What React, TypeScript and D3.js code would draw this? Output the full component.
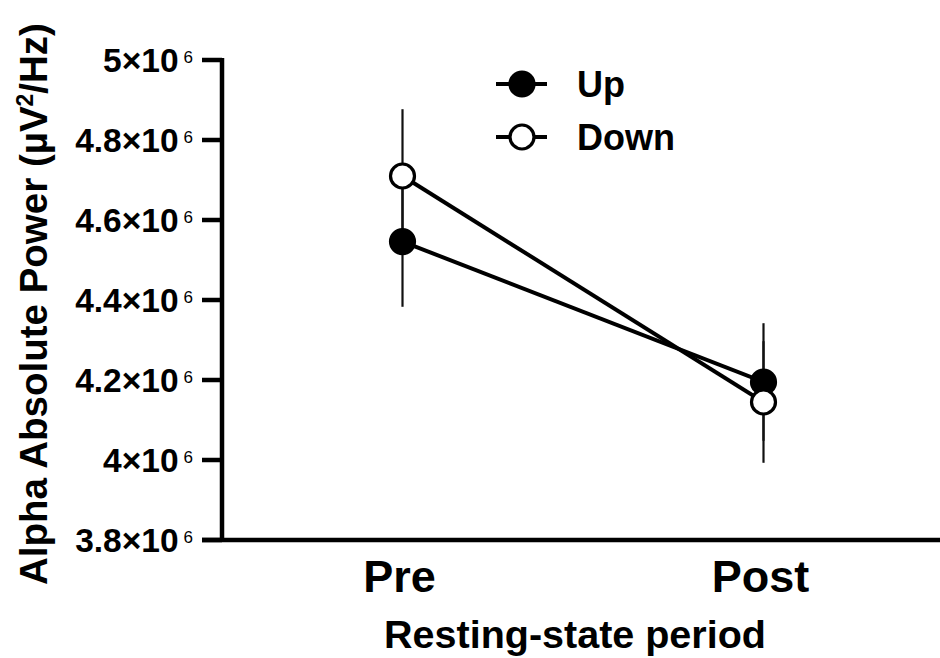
import React, { useEffect, useRef } from 'react';
import * as d3 from 'd3';

const periods = ['Pre', 'Post'];
const seriesNames = ['Up', 'Down'];
const upMean = [4.546e6, 4.195e6];
const upSem = [0.163e6, 0.147e6];
const downMean = [4.71e6, 4.145e6];
const downSem = [0.167e6, 0.152e6];
const yTicks = [3.8e6, 4e6, 4.2e6, 4.4e6, 4.6e6, 4.8e6, 5e6];

const W = 940;
const H = 658;
const FONT = '"Liberation Sans", Arial, Helvetica, sans-serif';

function draw(el: SVGSVGElement) {
  const svg = d3.select(el);
  svg.selectAll('*').remove();

  const x = d3.scalePoint<string>().domain(periods).range([222, 944]).padding(0.5);
  const y = d3.scaleLinear().domain([3.8e6, 5e6]).range([540, 60]);

  const series = [
    { name: seriesNames[0], mean: upMean, sem: upSem, fill: '#000' },
    { name: seriesNames[1], mean: downMean, sem: downSem, fill: '#fff' },
  ];

  // axes
  const g = svg.append('g').attr('font-family', FONT).attr('font-weight', 700);

  g.append('line')
    .attr('x1', 222).attr('x2', 222)
    .attr('y1', y(5e6) - 2).attr('y2', y(3.8e6) + 2)
    .attr('stroke', '#000').attr('stroke-width', 4.5);
  g.append('line')
    .attr('x1', 202).attr('x2', W)
    .attr('y1', y(3.8e6)).attr('y2', y(3.8e6))
    .attr('stroke', '#000').attr('stroke-width', 4.5);

  const tick = g.selectAll('g.tick')
    .data(yTicks)
    .join('g')
      .attr('class', 'tick')
      .attr('transform', d => `translate(0,${y(d)})`);
  tick.append('line')
    .attr('x1', 202).attr('x2', 222)
    .attr('stroke', '#000').attr('stroke-width', 4.5);
  const lbl = tick.append('text')
    .attr('x', 193)
    .attr('y', 12)
    .attr('text-anchor', 'end')
    .attr('font-size', 33.5);
  lbl.append('tspan').text(d => `${d3.format('~g')(d / 1e6)}×10`);
  lbl.append('tspan')
    .attr('dx', 5)
    .attr('dy', -9)
    .attr('font-size', 17)
    .attr('font-weight', 400)
    .text('6');

  g.selectAll('text.xl')
    .data(periods)
    .join('text')
      .attr('class', 'xl')
      .attr('x', d => x(d)! - 3)
      .attr('y', 592)
      .attr('text-anchor', 'middle')
      .attr('font-size', 45)
      .text(d => d);

  g.append('text')
    .attr('x', 575).attr('y', 648)
    .attr('text-anchor', 'middle')
    .attr('font-size', 39.5)
    .text('Resting-state period');

  const yt = g.append('text')
    .attr('transform', 'translate(47,304) rotate(-90)')
    .attr('text-anchor', 'middle')
    .attr('font-size', 38.5);
  yt.append('tspan').text('Alpha Absolute Power (µV');
  yt.append('tspan').attr('dy', -14).attr('font-size', 23).text('2');
  yt.append('tspan').attr('dy', 14).text('/Hz)');

  // error bars
  series.forEach(s => {
    svg.append('g').selectAll('line')
      .data(periods)
      .join('line')
        .attr('x1', d => x(d)!).attr('x2', d => x(d)!)
        .attr('y1', (d, i) => y(s.mean[i] - s.sem[i]))
        .attr('y2', (d, i) => y(s.mean[i] + s.sem[i]))
        .attr('stroke', '#111').attr('stroke-width', 2.2);
  });

  const line = d3.line<number>()
    .x((d, i) => x(periods[i])!)
    .y(d => y(d));

  series.forEach(s => {
    svg.append('path')
      .attr('d', line(s.mean))
      .attr('fill', 'none')
      .attr('stroke', '#000')
      .attr('stroke-width', 4);
  });

  series.forEach(s => {
    svg.append('g').selectAll('circle')
      .data(s.mean)
      .join('circle')
        .attr('cx', (d, i) => x(periods[i])!)
        .attr('cy', d => y(d))
        .attr('r', 12)
        .attr('fill', s.fill)
        .attr('stroke', '#000')
        .attr('stroke-width', 3.2);
  });

  // legend
  const leg = svg.append('g')
    .attr('font-family', FONT).attr('font-weight', 700)
    .selectAll('g')
    .data(series)
    .join('g')
      .attr('transform', (d, i) => `translate(522,${84 + i * 53})`);
  leg.append('line')
    .attr('x1', -26).attr('x2', 25)
    .attr('stroke', '#000').attr('stroke-width', 4);
  leg.append('circle')
    .attr('r', 12)
    .attr('fill', d => d.fill)
    .attr('stroke', '#000').attr('stroke-width', 3.2);
  leg.append('text')
    .attr('x', 55).attr('y', 12.5)
    .attr('font-size', 36)
    .text(d => d.name);
}

export default function App() {
  const ref = useRef<SVGSVGElement>(null);

  useEffect(() => {
    if (ref.current) draw(ref.current);
  }, []);

  return (
    <div style={{ position: 'absolute', left: 0, top: 0, width: W, height: H, background: '#fff' }}>
      <svg ref={ref} width={W} height={H} style={{ display: 'block' }} />
    </div>
  );
}
